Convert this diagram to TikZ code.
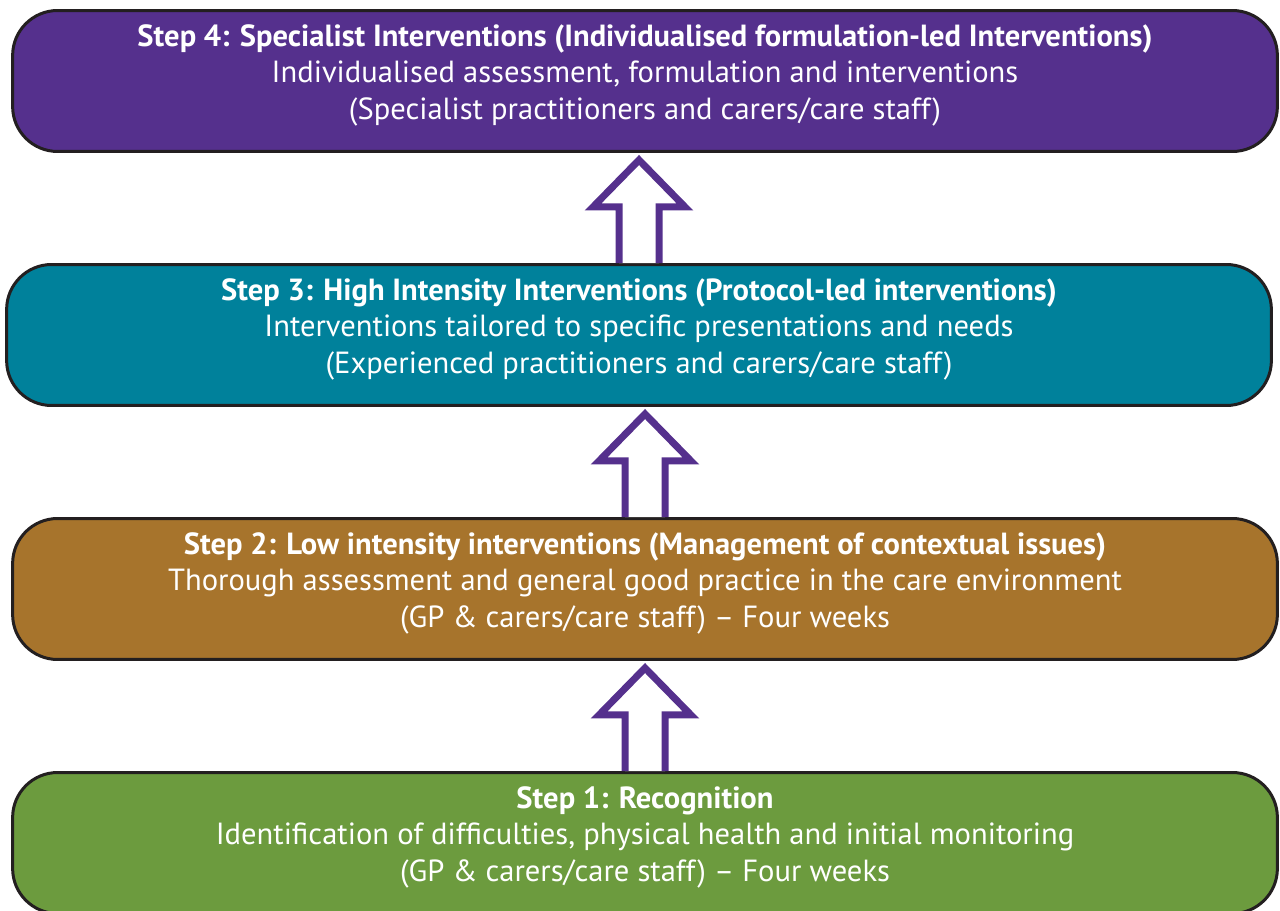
\documentclass[tikz,border=0pt]{standalone}
\usepackage{fontspec}
\setmainfont{PT Sans}
\usetikzlibrary{calc}

\definecolor{stepfour}{HTML}{55308D}
\definecolor{stepthree}{HTML}{00819B}
\definecolor{steptwo}{HTML}{A7742C}
\definecolor{stepone}{HTML}{6C9B3E}
\definecolor{edgedark}{HTML}{231F20}

\tikzset{
  stepbox/.style={draw=edgedark, line width=0.06cm, rounded corners=0.9cm,
    minimum width=25.3cm, minimum height=2.82cm, text=white, align=center,
    text depth=0.36cm, font=\fontsize{17.4}{20.7}\selectfont},
  uparrow/.style={draw=stepfour, fill=white, line width=0.14cm, miter limit=10}
}

\begin{document}
\begin{tikzpicture}[x=0.02cm, y=0.02cm]
	\useasboundingbox (0,0) rectangle (1280,910);
	\node[stepbox, fill=stepfour] (step4) at (645,829) {\textbf{Step 4: Specialist Interventions (Individualised formulation-led Interventions)}\\Individualised assessment, formulation and interventions\\(Specialist practitioners and carers/care staff)};
	\node[stepbox, fill=stepthree] (step3) at (639,575) {\textbf{Step 3: High Intensity Interventions (Protocol-led interventions)}\\Interventions tailored to specific presentations and needs\\(Experienced practitioners and carers/care staff)};
	\node[stepbox, fill=steptwo] (step2) at (645,321) {\textbf{Step 2: Low intensity interventions (Management of contextual issues)}\\Thorough assessment and general good practice in the care environment\\(GP \& carers/care staff) -- Four weeks};
	\node[stepbox, fill=stepone] (step1) at (645,67) {\textbf{Step 1: Recognition}\\Identification of difficulties, physical health and initial monitoring\\(GP \& carers/care staff) -- Four weeks};
	% hollow arrows from step to step
	\foreach \lo/\hi in {step1/step2, step2/step3, step3/step4}
		\draw[uparrow] ($(\lo.north)+(-20,0)$) -- ($(\lo.north |- \hi.south)+(-20,-54)$)
			-- ($(\lo.north |- \hi.south)+(-46,-54)$) -- ($(\lo.north |- \hi.south)+(0,-7)$)
			-- ($(\lo.north |- \hi.south)+(46,-54)$) -- ($(\lo.north |- \hi.south)+(20,-54)$)
			-- ($(\lo.north)+(20,0)$);
\end{tikzpicture}
\end{document}
